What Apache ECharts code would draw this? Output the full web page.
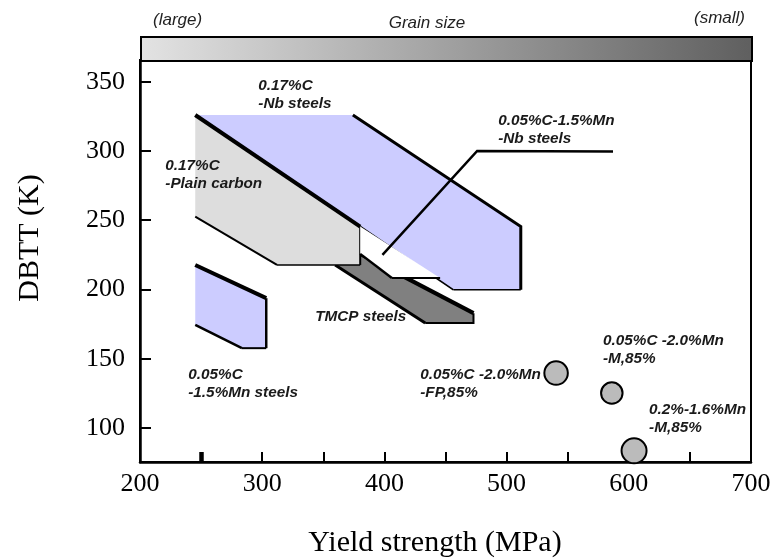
<!DOCTYPE html>
<html>
<head>
<meta charset="utf-8">
<script src="https://cdn.jsdelivr.net/npm/echarts@6/dist/echarts.min.js"></script>
<style>
html,body{margin:0;padding:0;background:#fff;}
#chart{width:770px;height:559px;}
</style>
</head>
<body>
<div id="chart"></div>
<script>
// ---- axis ticks / labels ----
const xTickLabels = [200, 300, 400, 500, 600, 700];
const xThickTick = [250];
const yTickLabels = [100, 150, 200, 250, 300, 350];

// ---- regions (yield strength MPa, DBTT K) ----
const nbSteels017C = [[245.2, 326.0], [374.2, 326.0], [511.6, 245.4], [511.6, 199.7], [456.5, 199.7], [380.2, 245.4]];
const plainCarbon017C = [[245.2, 326.0], [380.2, 245.4], [380.2, 217.7], [312.1, 217.7], [245.2, 252.6]];
const tmcpSteels = [[359.7, 217.7], [380.2, 217.7], [380.2, 225.7], [472.9, 182.9], [472.9, 175.7], [433.4, 175.7]];
const mnNbSteels = [[380.2, 245.4], [380.2, 225.7], [406.1, 208.2], [445.6, 208.2]];
const mnSteels005C = [[245.2, 217.7], [303.3, 193.7], [303.3, 157.6], [283.4, 157.6], [245.2, 174.5]];
const leaderLine = [[587.1, 299.7], [475.9, 300.0], [398.4, 225.0]];

// ---- individual steels (circles) ----
const circleYS = [540.5, 586.1, 604.3];
const circleDBTT = [139.6, 125.2, 83.5];
const circleSizes = [23.5, 21.5, 25];

// ---- annotations ----
const annoText = [
  '0.17%C\n-Nb steels',
  '0.17%C\n-Plain carbon',
  '0.05%C-1.5%Mn\n-Nb steels',
  'TMCP steels',
  '0.05%C\n-1.5%Mn steels',
  '0.05%C -2.0%Mn\n-FP,85%',
  '0.05%C -2.0%Mn\n-M,85%',
  '0.2%-1.6%Mn\n-M,85%'
];
const annoX = [296.8, 220.7, 493.1, 343.4, 239.5, 429.3, 578.9, 616.6];
const annoY = [353.4, 295.9, 328.4, 186.9, 144.9, 144.9, 169.6, 119.6];

const chart = echarts.init(document.getElementById('chart'), null, {renderer: 'canvas'});

function regionSeries(name, pts, fill, edges) {
  return {
    type: 'custom', name: name, coordinateSystem: 'cartesian2d', silent: true, clip: false,
    data: [pts[0]],
    renderItem: function (params, api) {
      const P = pts.map(function (p) { return api.coord(p); });
      const children = [];
      if (fill) children.push({type: 'polygon', shape: {points: P}, style: {fill: fill, stroke: null}});
      edges.forEach(function (e) {
        children.push({type: 'polyline', shape: {points: e.idx.map(function (i) { return P[i]; })},
          style: {stroke: '#000', lineWidth: e.w, fill: null, lineCap: 'butt', lineJoin: 'miter'}});
      });
      return {type: 'group', children: children};
    }
  };
}

const series = [
  regionSeries('TMCP', tmcpSteels, '#808080', [{idx: [2, 3], w: 4}, {idx: [3, 4, 5], w: 2}, {idx: [5, 0], w: 3}]),
  regionSeries('Plain', plainCarbon017C, '#dddddd', [{idx: [1, 2], w: 2}, {idx: [2, 3], w: 1.5}, {idx: [3, 4], w: 2}]),
  regionSeries('Nb', nbSteels017C, '#ccccff', [{idx: [1, 2, 3], w: 3}, {idx: [3, 4], w: 1.5}, {idx: [4, 5], w: 1.8}, {idx: [5, 0], w: 4}]),
  regionSeries('MnNb', mnNbSteels, '#ffffff', [{idx: [1, 2], w: 2.5}, {idx: [2, 3], w: 2}]),
  regionSeries('Mn', mnSteels005C, '#ccccff', [{idx: [0, 1], w: 4}, {idx: [1, 2], w: 2.5}, {idx: [2, 3], w: 2}, {idx: [3, 4], w: 2.5}]),
  regionSeries('Leader', leaderLine, null, [{idx: [0, 1, 2], w: 2.5}]),
  {
    type: 'scatter', silent: true,
    data: circleYS.map(function (x, i) { return [x, circleDBTT[i]]; }),
    symbol: 'circle',
    symbolSize: function (v, p) { return circleSizes[p.dataIndex]; },
    itemStyle: {color: '#bbbbbb', borderColor: '#000', borderWidth: 2, opacity: 1},
    clip: false
  },
  {
    type: 'custom', silent: true, clip: false, coordinateSystem: 'cartesian2d',
    data: annoX.map(function (x, i) { return [x, annoY[i], i]; }),
    renderItem: function (params, api) {
      const pt = api.coord([api.value(0), api.value(1)]);
      const i = api.value(2);
      return {
        type: 'text', x: pt[0], y: pt[1],
        style: {
          text: annoText[i], fill: '#1a1a1a',
          fontFamily: 'Liberation Sans, Arial, sans-serif', fontSize: 15.3,
          fontStyle: 'italic', fontWeight: 'bold',
          align: 'left', verticalAlign: 'top', lineHeight: 18
        }
      };
    }
  }
];

const option = {
  backgroundColor: '#fff',
  animation: false,
  grid: {left: 140, right: 19, top: 60, bottom: 97, show: true, borderColor: '#000', borderWidth: 2, backgroundColor: 'transparent', containLabel: false, outerBoundsMode: 'none'},
  xAxis: [{
    type: 'value', min: 200, max: 700, interval: 50,
    name: 'Yield strength (MPa)', nameLocation: 'middle', nameGap: 66,
    nameTextStyle: {fontFamily: 'Liberation Serif, Times New Roman, serif', fontSize: 30, color: '#000', padding: [0, 21, 0, 0]},
    axisLine: {show: true, onZero: false, lineStyle: {color: '#000', width: 2.5}},
    axisTick: {show: true, inside: true, length: 10, lineStyle: {color: '#000', width: 2}},
    axisLabel: {customValues: xTickLabels, margin: 9, fontFamily: 'Liberation Serif, Times New Roman, serif', fontSize: 26, color: '#000'},
    splitLine: {show: false}
  }, {
    type: 'value', min: 200, max: 700, position: 'bottom',
    axisLine: {show: false, onZero: false},
    axisTick: {show: true, inside: true, length: 10, customValues: xThickTick, lineStyle: {color: '#000', width: 4.5}},
    axisLabel: {show: false},
    splitLine: {show: false}
  }],
  yAxis: {
    type: 'value', min: 75.4, max: 365.7,
    name: 'DBTT (K)', nameLocation: 'middle', nameGap: 95,
    nameTextStyle: {fontFamily: 'Liberation Serif, Times New Roman, serif', fontSize: 30, color: '#000', padding: [0, 0, 0, 46]},
    axisLine: {show: true, onZero: false, lineStyle: {color: '#000', width: 2.5}},
    axisTick: {show: true, inside: true, length: 11, customValues: yTickLabels, lineStyle: {color: '#000', width: 2}},
    axisLabel: {customValues: yTickLabels, margin: 15, fontFamily: 'Liberation Serif, Times New Roman, serif', fontSize: 26, color: '#000'},
    splitLine: {show: false}
  },
  graphic: [
    {type: 'rect', left: 140, top: 36, shape: {width: 611, height: 24}, z: 10,
      style: {fill: new echarts.graphic.LinearGradient(0, 0, 1, 0, [{offset: 0, color: '#e3e3e3'}, {offset: 1, color: '#5f5f5f'}]), stroke: '#000', lineWidth: 2}},
    {type: 'text', x: 153, y: 20, z: 10, style: {text: '(large)', fontFamily: 'Liberation Sans, Arial, sans-serif', fontSize: 17, fontStyle: 'italic', fill: '#222', align: 'left', verticalAlign: 'middle'}},
    {type: 'text', x: 427, y: 23, z: 10, style: {text: 'Grain size', fontFamily: 'Liberation Sans, Arial, sans-serif', fontSize: 17, fontStyle: 'italic', fill: '#222', align: 'center', verticalAlign: 'middle'}},
    {type: 'text', x: 745, y: 18, z: 10, style: {text: '(small)', fontFamily: 'Liberation Sans, Arial, sans-serif', fontSize: 17, fontStyle: 'italic', fill: '#222', align: 'right', verticalAlign: 'middle'}}
  ],
  series: series
};
chart.setOption(option);
</script>
</body>
</html>
